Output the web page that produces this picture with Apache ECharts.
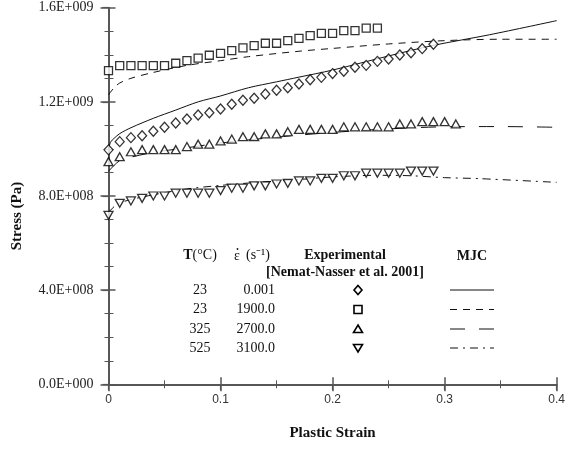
<!DOCTYPE html>
<html>
<head>
<meta charset="utf-8">
<script src="https://cdn.jsdelivr.net/npm/echarts@6/dist/echarts.min.js"></script>
<style>
  html, body { margin: 0; padding: 0; background: #fff; }
  #chart { width: 568px; height: 449px; }
</style>
</head>
<body>
<div id="chart"></div>
<script>
// 试验点的应变位置（每 0.01 一个点）
const expStrain = [0, 0.01, 0.02, 0.03, 0.04, 0.05, 0.06, 0.07, 0.08, 0.09, 0.10, 0.11, 0.12, 0.13, 0.14, 0.15,
    0.16, 0.17, 0.18, 0.19, 0.20, 0.21, 0.22, 0.23, 0.24, 0.25, 0.26, 0.27, 0.28, 0.29, 0.30, 0.31];

// 试验数据（GPa）
const diamondStress = [0.996, 1.031, 1.048, 1.056, 1.075, 1.092, 1.110, 1.127, 1.144, 1.154, 1.170, 1.190, 1.207, 1.215, 1.233,
    1.249, 1.260, 1.276, 1.294, 1.304, 1.320, 1.330, 1.347, 1.355, 1.372, 1.382, 1.399, 1.409, 1.426, 1.445];
const squareStress = [1.333, 1.354, 1.354, 1.354, 1.354, 1.354, 1.364, 1.375, 1.386, 1.398, 1.406, 1.418, 1.429, 1.439, 1.449,
    1.449, 1.460, 1.470, 1.481, 1.491, 1.491, 1.503, 1.503, 1.513, 1.513];
const triangleStress = [0.946, 0.967, 0.988, 0.997, 0.997, 0.997, 0.997, 1.010, 1.020, 1.020, 1.034, 1.042, 1.052, 1.052, 1.064,
    1.064, 1.073, 1.083, 1.083, 1.083, 1.083, 1.094, 1.094, 1.094, 1.094, 1.094, 1.106, 1.106, 1.116, 1.116, 1.116, 1.106];
const invTriangleStress = [0.718, 0.769, 0.779, 0.790, 0.800, 0.800, 0.812, 0.812, 0.812, 0.812, 0.823, 0.833, 0.833, 0.843, 0.843,
    0.851, 0.854, 0.864, 0.864, 0.875, 0.875, 0.886, 0.886, 0.897, 0.897, 0.897, 0.897, 0.906, 0.906, 0.906];

// MJC 模型曲线 [应变, GPa]
const mjcSolid = [[0, 1.00], [0.002, 1.03], [0.005, 1.045], [0.01, 1.065], [0.02, 1.09], [0.04, 1.13], [0.06, 1.165],
    [0.08, 1.20], [0.1, 1.225], [0.125, 1.26], [0.15, 1.285], [0.17, 1.305], [0.2, 1.335], [0.25, 1.395],
    [0.29, 1.44], [0.34, 1.485], [0.4, 1.545]];
const mjcDashed = [[0, 1.23], [0.005, 1.26], [0.01, 1.28], [0.02, 1.30], [0.04, 1.325], [0.07, 1.355], [0.1, 1.375],
    [0.125, 1.392], [0.17, 1.415], [0.2, 1.427], [0.25, 1.446], [0.3, 1.46], [0.35, 1.466], [0.4, 1.466]];
const mjcLongDash = [[0, 0.905], [0.005, 0.93], [0.01, 0.95], [0.02, 0.965], [0.04, 0.985], [0.07, 1.005], [0.1, 1.025],
    [0.15, 1.05], [0.2, 1.07], [0.25, 1.085], [0.3, 1.094], [0.35, 1.095], [0.4, 1.092]];
const mjcDashDot = [[0, 0.73], [0.005, 0.755], [0.01, 0.77], [0.02, 0.785], [0.04, 0.805], [0.07, 0.83], [0.1, 0.845],
    [0.13, 0.857], [0.17, 0.87], [0.2, 0.881], [0.24, 0.888], [0.27, 0.886], [0.3, 0.878], [0.33, 0.874], [0.4, 0.858]];

// 图例表格文字
const legendT = ['23', '23', '325', '525'];
const legendRate = ['0.001', '1900.0', '2700.0', '3100.0'];

const chart = echarts.init(document.getElementById('chart'));
const SERIF = '"Liberation Serif", "Times New Roman", serif';
const SANS = '"Liberation Sans", Arial, sans-serif';
const AXIS_COLOR = '#555';

// 1.6E+009 格式
function sciLabel(v) {
    if (v === 0) return '0.0E+000';
    const e = Math.floor(Math.log10(v));
    const m = v / Math.pow(10, e);
    return m.toFixed(1) + 'E+' + String(e).padStart(3, '0');
}

const toPa = arr => arr.map(v => v * 1e9);
const expPoints = stress => toPa(stress).map((s, i) => [expStrain[i], s]);
const linePoints = arr => arr.map(p => [p[0], p[1] * 1e9]);

const baseX = { type: 'value', min: 0, max: 0.4, interval: 0.1, gridIndex: 0, splitLine: { show: false } };
const baseY = { type: 'value', min: 0, max: 1.6e9, interval: 4e8, gridIndex: 0, splitLine: { show: false } };
const lineStyleAxis = { show: true, lineStyle: { color: AXIS_COLOR, width: 1.5 } };

const markerStyle = { color: '#fff', borderColor: '#000', borderWidth: 1.3 };

function expSeries(name, stress, symbol, size, rotate) {
    return {
        name, type: 'scatter', data: expPoints(stress), symbol, symbolSize: size, symbolRotate: rotate || 0,
        itemStyle: markerStyle, z: 5, silent: true
    };
}
function mjcSeries(name, data, type) {
    return {
        name, type: 'line', data: linePoints(data), showSymbol: false, symbol: 'none', smooth: 0.3,
        lineStyle: { color: '#111', width: 1, type }, z: 3, silent: true
    };
}

// 图例（表格形式）
const rowY = [290, 309.5, 329, 348];
const graphics = [];
const txt = (text, x, y, align, extra) => ({
    type: 'text', x, y, silent: true,
    style: Object.assign({ text, fill: '#111', font: '14px ' + SERIF, align, verticalAlign: 'middle' }, extra || {})
});
graphics.push({
    type: 'text', x: 200, y: 255, silent: true,
    style: {
        text: '{b|T}(°C)', align: 'center', verticalAlign: 'middle', fill: '#111', font: '14px ' + SERIF,
        rich: { b: { fontWeight: 'bold', fontFamily: SERIF, fontSize: 14 } }
    }
});
// 应变率符号：ε 上加一点
graphics.push(txt('ε', 237, 256, 'center'));
graphics.push({ type: 'circle', x: 237.5, y: 249, silent: true, shape: { r: 0.9 }, style: { fill: '#111' } });
graphics.push(txt('(s⁻¹)', 246, 255, 'left'));
graphics.push(txt('Experimental', 345, 255, 'center', { font: 'bold 14px ' + SERIF }));
graphics.push(txt('[Nemat-Nasser et al. 2001]', 345, 272, 'center', { font: 'bold 14px ' + SERIF }));
graphics.push(txt('MJC', 472, 256, 'center', { font: 'bold 14px ' + SERIF }));
legendT.forEach((t, i) => graphics.push(txt(t, 200, rowY[i], 'center')));
legendRate.forEach((r, i) => graphics.push(txt(r, 275, rowY[i], 'right')));

const legendMarkerStyle = { fill: '#fff', stroke: '#000', lineWidth: 1.6 };
graphics.push({ type: 'polygon', x: 358, y: rowY[0], silent: true, shape: { points: [[0, -4.5], [4, 0], [0, 4.5], [-4, 0]] }, style: legendMarkerStyle });
graphics.push({ type: 'rect', x: 354, y: rowY[1] - 4, silent: true, shape: { width: 8, height: 8 }, style: legendMarkerStyle });
graphics.push({ type: 'polygon', x: 358, y: rowY[2], silent: true, shape: { points: [[0, -4], [4.5, 3.5], [-4.5, 3.5]] }, style: legendMarkerStyle });
graphics.push({ type: 'polygon', x: 358, y: rowY[3], silent: true, shape: { points: [[0, 4], [4.5, -3.5], [-4.5, -3.5]] }, style: legendMarkerStyle });

const legendDash = ['solid', [7, 6], [15, 14], [8, 5, 2, 5]];
legendDash.forEach((d, i) => graphics.push({
    type: 'line', silent: true, shape: { x1: 450, y1: rowY[i], x2: 494, y2: rowY[i] },
    style: { stroke: '#111', lineWidth: 1, lineDash: d === 'solid' ? null : d }
}));

// 纵轴标题
graphics.push({
    type: 'text', x: 17, y: 216, rotation: Math.PI / 2, silent: true,
    style: { text: 'Stress (Pa)', font: 'bold 15px ' + SERIF, fill: '#111', align: 'center', verticalAlign: 'middle' }
});

chart.setOption({
    animation: false,
    backgroundColor: '#fff',
    grid: { left: 108.5, right: 5.7, top: 7.7, bottom: 64.7, containLabel: false },
    xAxis: [
        Object.assign({}, baseX, {
            position: 'bottom', axisLine: lineStyleAxis,
            axisTick: { show: true, inside: false, length: 7, lineStyle: { color: AXIS_COLOR, width: 1.5 } },
            axisLabel: { show: true, margin: 9, fontFamily: SANS, fontSize: 12, color: '#333' },
            name: 'Plastic Strain', nameLocation: 'middle', nameGap: 41,
            nameTextStyle: { fontFamily: SERIF, fontWeight: 'bold', fontSize: 15, color: '#111' }
        }),
        Object.assign({}, baseX, {
            position: 'bottom', axisLine: lineStyleAxis,
            axisTick: { show: true, inside: true, length: 7, lineStyle: { color: AXIS_COLOR, width: 1.5 } },
            minorTick: { show: true, splitNumber: 2, length: 4, lineStyle: { color: AXIS_COLOR, width: 1 } },
            axisLabel: { show: false }
        }),
        Object.assign({}, baseX, {
            position: 'top', axisLine: lineStyleAxis,
            axisTick: { show: true, inside: true, length: 6, lineStyle: { color: AXIS_COLOR, width: 1.2 } },
            minorTick: { show: true, splitNumber: 2, length: 4, lineStyle: { color: AXIS_COLOR, width: 1 } },
            axisLabel: { show: false }
        })
    ],
    yAxis: [
        Object.assign({}, baseY, {
            position: 'left', axisLine: lineStyleAxis,
            axisTick: { show: true, inside: false, length: 8, lineStyle: { color: AXIS_COLOR, width: 1.5 } },
            axisLabel: { show: true, margin: 15, fontFamily: SERIF, fontSize: 14, color: '#222', formatter: sciLabel }
        }),
        Object.assign({}, baseY, {
            position: 'left', axisLine: lineStyleAxis,
            axisTick: { show: true, inside: true, length: 7, lineStyle: { color: AXIS_COLOR, width: 1.5 } },
            minorTick: { show: true, splitNumber: 4, length: 5, lineStyle: { color: AXIS_COLOR, width: 1 } },
            axisLabel: { show: false }
        }),
        Object.assign({}, baseY, {
            position: 'right', axisLine: lineStyleAxis,
            axisTick: { show: true, inside: true, length: 6, lineStyle: { color: AXIS_COLOR, width: 1.2 } },
            minorTick: { show: true, splitNumber: 4, length: 4, lineStyle: { color: AXIS_COLOR, width: 1 } },
            axisLabel: { show: false }
        })
    ],
    series: [
        mjcSeries('MJC 23C 0.001', mjcSolid, 'solid'),
        mjcSeries('MJC 23C 1900', mjcDashed, [7, 6]),
        mjcSeries('MJC 325C 2700', mjcLongDash, [15, 14]),
        mjcSeries('MJC 525C 3100', mjcDashDot, [8, 5, 2, 5]),
        expSeries('Exp 23C 0.001', diamondStress, 'diamond', [9, 10]),
        expSeries('Exp 23C 1900', squareStress, 'rect', 8),
        expSeries('Exp 325C 2700', triangleStress, 'triangle', [9, 8]),
        expSeries('Exp 525C 3100', invTriangleStress, 'triangle', [9, 8], 180)
    ],
    graphic: graphics
});
</script>
</body>
</html>
